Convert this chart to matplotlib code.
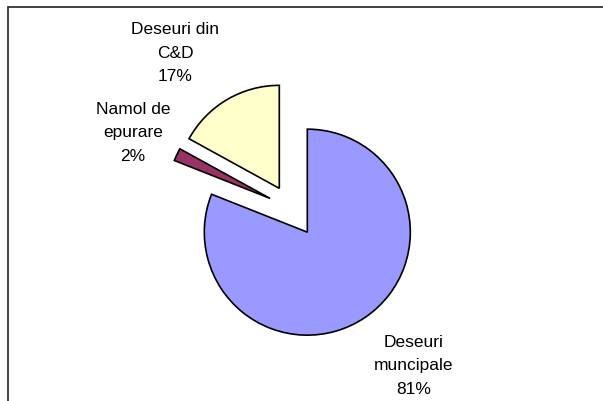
import matplotlib
matplotlib.use("Agg")
import matplotlib.pyplot as plt
from matplotlib.patches import Rectangle

# ---- data ----
categories = ["Deseuri\nmuncipale", "Namol de\nepurare", "Deseuri din\nC&D"]
values = [81, 2, 17]
pct_labels = ["81%", "2%", "17%"]
colors = ["#9999FF", "#993366", "#FFFFCC"]
explode = [0.28, 0.225, 0.225]

W, H = 603, 402
fig = plt.figure(figsize=(W / 100, H / 100), dpi=100)
fig.patch.set_facecolor("white")

# pie centre / radius in pixels (layout)
cx, cy, R = 291.1, 209.3, 103.0
ax = fig.add_axes([0, 0, 1, 1])
ax.pie(values, colors=colors, explode=explode, startangle=90, counterclock=False,
       radius=1.0, center=(0, 0),
       wedgeprops=dict(edgecolor="black", linewidth=1.2, joinstyle="miter"))
ax.set_xlim(-cx / R, (W - cx) / R)
ax.set_ylim(-(H - cy) / R, cy / R)
ax.set_aspect("auto")
ax.axis("off")

# label positions in pixels (layout): centre of middle line
label_pos = [(414, 366), (133, 133), (175, 53)]
for cat, pct, (px, py) in zip(categories, pct_labels, label_pos):
    fig.text(px / W, 1 - py / H, cat + "\n" + pct, ha="center", va="center",
             multialignment="center", fontsize=12.5, family="Liberation Sans",
             linespacing=1.72, color="black")

# outer frame (extends beyond the image at right / bottom)
fig.add_artist(Rectangle((8.3 / W, -0.05), 1.1, 1 - 8.3 / H + 0.05,
                         transform=fig.transFigure, fill=False,
                         edgecolor="#222222", linewidth=1.2))

fig.savefig("out.png", dpi=100, facecolor="white")
